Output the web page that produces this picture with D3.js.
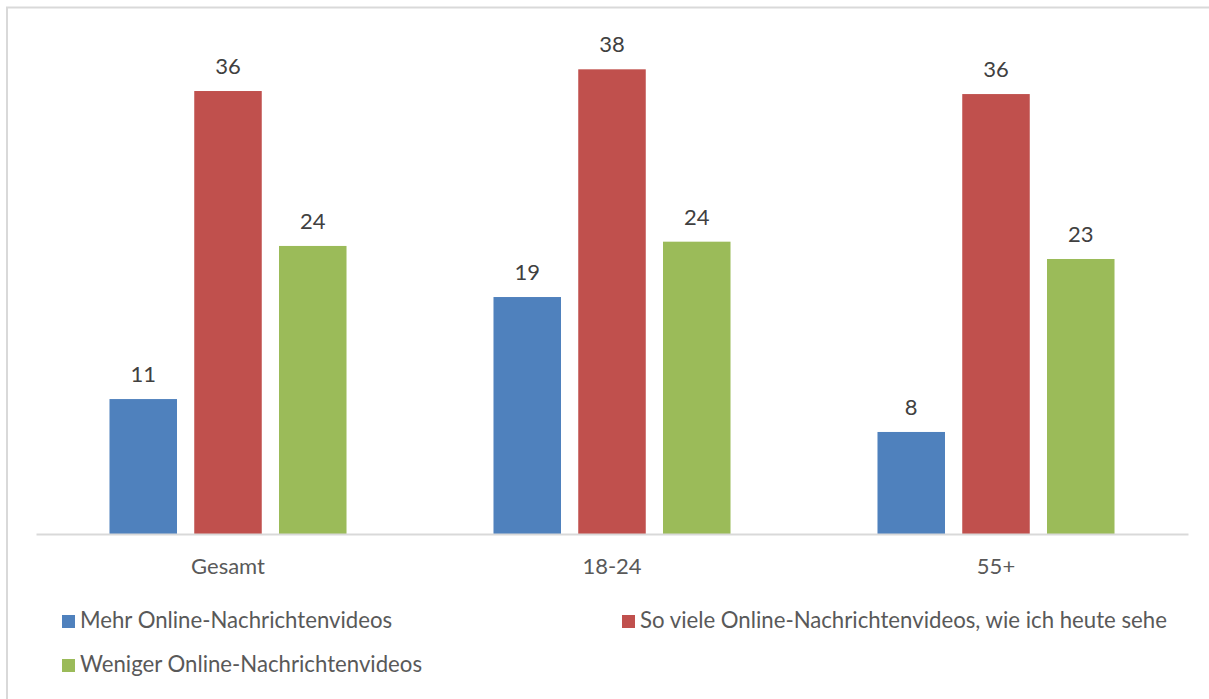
<!DOCTYPE html>
<html>
<head>
<meta charset="utf-8">
<script src="https://cdn.jsdelivr.net/npm/d3@7"></script>
<style>
  html, body { margin: 0; padding: 0; background: #fff; }
  svg { display: block; font-family: Lato, "Open Sans", sans-serif; }
</style>
</head>
<body>
<svg id="chart" width="1209" height="699"></svg>
<script>
const categories = ["Gesamt", "18-24", "55+"];
const seriesNames = [
  "Mehr Online-Nachrichtenvideos",
  "So viele Online-Nachrichtenvideos, wie ich heute sehe",
  "Weniger Online-Nachrichtenvideos"
];
const seriesColors = ["#4F81BD", "#C0504D", "#9BBB59"];
const mehr = [11.07, 19.44, 8.37];
const soViele = [36.34, 38.12, 36.09];
const weniger = [23.63, 23.98, 22.56];
const seriesValues = [mehr, soViele, weniger];

const svg = d3.select("#chart");
const W = 1209, H = 699;

// chart border
svg.append("rect")
  .attr("x", 7).attr("y", 7.5)
  .attr("width", W + 10).attr("height", H + 10)
  .attr("fill", "#fff")
  .attr("stroke", "#D9D9D9").attr("stroke-width", 2);

const plot = { left: 36, right: 1188, bottom: 534 };
const yMax = 40;
const unit = 12.19;
const y = d3.scaleLinear().domain([0, yMax]).range([plot.bottom, plot.bottom - yMax * unit]);
const x0 = d3.scaleBand().domain(categories).range([plot.left, plot.right]).padding(0);
const x1 = d3.scaleBand().domain(d3.range(seriesNames.length))
  .range([0, x0.bandwidth()]).paddingInner(0.2035).paddingOuter(0.867);

const rows = [];
categories.forEach((c, ci) => {
  seriesValues.forEach((vals, si) => rows.push({ c, si, v: vals[ci] }));
});

const g = svg.append("g");
g.selectAll("rect.bar").data(rows).enter().append("rect")
  .attr("class", "bar")
  .attr("x", d => x0(d.c) + x1(d.si))
  .attr("y", d => y(d.v))
  .attr("width", x1.bandwidth())
  .attr("height", d => y(0) - y(d.v))
  .attr("fill", d => seriesColors[d.si]);

g.selectAll("text.lbl").data(rows).enter().append("text")
  .attr("class", "lbl")
  .attr("x", d => x0(d.c) + x1(d.si) + x1.bandwidth() / 2)
  .attr("y", d => y(d.v) - 17)
  .attr("text-anchor", "middle")
  .attr("font-size", 22)
  .attr("fill", "#404040")
  .text(d => Math.round(d.v));

// x axis
const xAxis = d3.axisBottom(x0).tickSize(0).tickPadding(0);
const ax = svg.append("g").attr("transform", `translate(0,${plot.bottom})`).call(xAxis);
ax.select(".domain").attr("stroke", "#D9D9D9").attr("stroke-width", 2);
ax.selectAll("text")
  .attr("font-size", 22)
  .attr("fill", "#595959")
  .attr("font-family", "Lato, 'Open Sans', sans-serif")
  .attr("dy", 0)
  .attr("y", 40);

// legend
const legendPos = [
  { x: 62, y: 615 },
  { x: 622, y: 615 },
  { x: 62, y: 659 }
];
const leg = svg.append("g");
seriesNames.forEach((name, i) => {
  const p = legendPos[i];
  leg.append("rect").attr("x", p.x).attr("y", p.y).attr("width", 13).attr("height", 13)
    .attr("fill", seriesColors[i]);
  leg.append("text").attr("x", p.x + 18).attr("y", p.y + 13)
    .attr("font-size", 22.2).attr("fill", "#595959").text(name);
});
</script>
</body>
</html>
